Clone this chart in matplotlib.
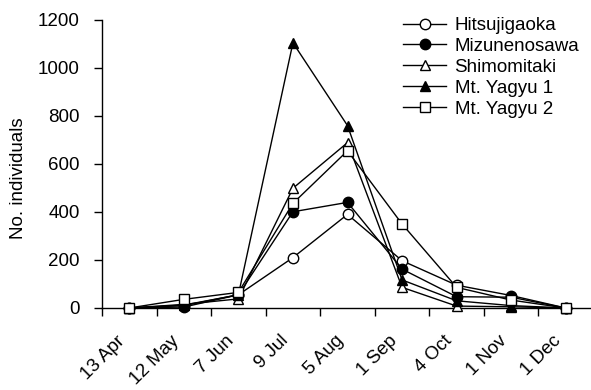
import matplotlib
matplotlib.use("Agg")
import matplotlib.pyplot as plt
import matplotlib.transforms as mtransforms
import numpy as np

plt.rcParams['font.family'] = ['Liberation Sans', 'DejaVu Sans']

dates = ["13 Apr", "12 May", "7 Jun", "9 Jul", "5 Aug", "1 Sep", "4 Oct", "1 Nov", "1 Dec"]
hitsujigaoka = [0, 10, 55, 210, 390, 197, 95, 52, 0]
mizunenosawa = [0, 4, 55, 401, 440, 162, 47, 45, 0]
shimomitaki = [0, 15, 38, 499, 689, 86, 8, 5, 0]
mt_yagyu1 = [0, 12, 55, 1105, 760, 117, 30, 10, 0]
mt_yagyu2 = [0, 36, 65, 436, 655, 350, 86, 33, 0]

series = [
    ("Hitsujigaoka", hitsujigaoka, 'o', 'white'),
    ("Mizunenosawa", mizunenosawa, 'o', 'black'),
    ("Shimomitaki", shimomitaki, '^', 'white'),
    ("Mt. Yagyu 1", mt_yagyu1, '^', 'black'),
    ("Mt. Yagyu 2", mt_yagyu2, 's', 'white'),
]

fig = plt.figure(figsize=(5.91, 3.90), dpi=100)
ax = fig.add_axes([102/591, 82/390, (593-102)/591, 288/390])

x = np.arange(len(dates))
for name, vals, m, fc in series:
    ax.plot(x, vals, color='black', lw=1.0, marker=m, markersize=7.5,
            markerfacecolor=fc, markeredgecolor='black', markeredgewidth=1.0,
            label=name, clip_on=False, zorder=3)

ax.set_xlim(-0.5, len(dates) - 0.5)
ax.set_ylim(0, 1200)
ax.set_yticks(range(0, 1201, 200))
ax.tick_params(axis='y', direction='out', length=6, width=1, labelsize=13.5, pad=10)

ax.set_xticks(np.arange(-0.5, len(dates), 1.0))
ax.set_xticklabels([])
ax.tick_params(axis='x', which='major', direction='out', length=6, width=1)
ax.set_xticks(x, minor=True)
ax.set_xticklabels(dates, minor=True, rotation=45, ha='right', rotation_mode='anchor')
ax.tick_params(axis='x', which='minor', length=0, labelsize=13.5, pad=17.5)
offset = mtransforms.ScaledTranslation(-13/100, 0, fig.dpi_scale_trans)
for lbl in ax.xaxis.get_minorticklabels():
    lbl.set_transform(lbl.get_transform() + offset)

for s in ['top', 'right']:
    ax.spines[s].set_visible(False)
for s in ['left', 'bottom']:
    ax.spines[s].set_linewidth(1.0)

ax.set_ylabel("No. individuals", fontsize=13.5)
ax.yaxis.set_label_coords((27 - 102) / 491, (308 - 178) / 288)

leg = fig.legend(loc='upper left', bbox_to_anchor=(403/591, 1 - 17/390),
                 frameon=False, fontsize=13.5, handlelength=2.3, handletextpad=0.45,
                 labelspacing=0.2, borderpad=0, borderaxespad=0)

fig.savefig("out.png", dpi=100)
